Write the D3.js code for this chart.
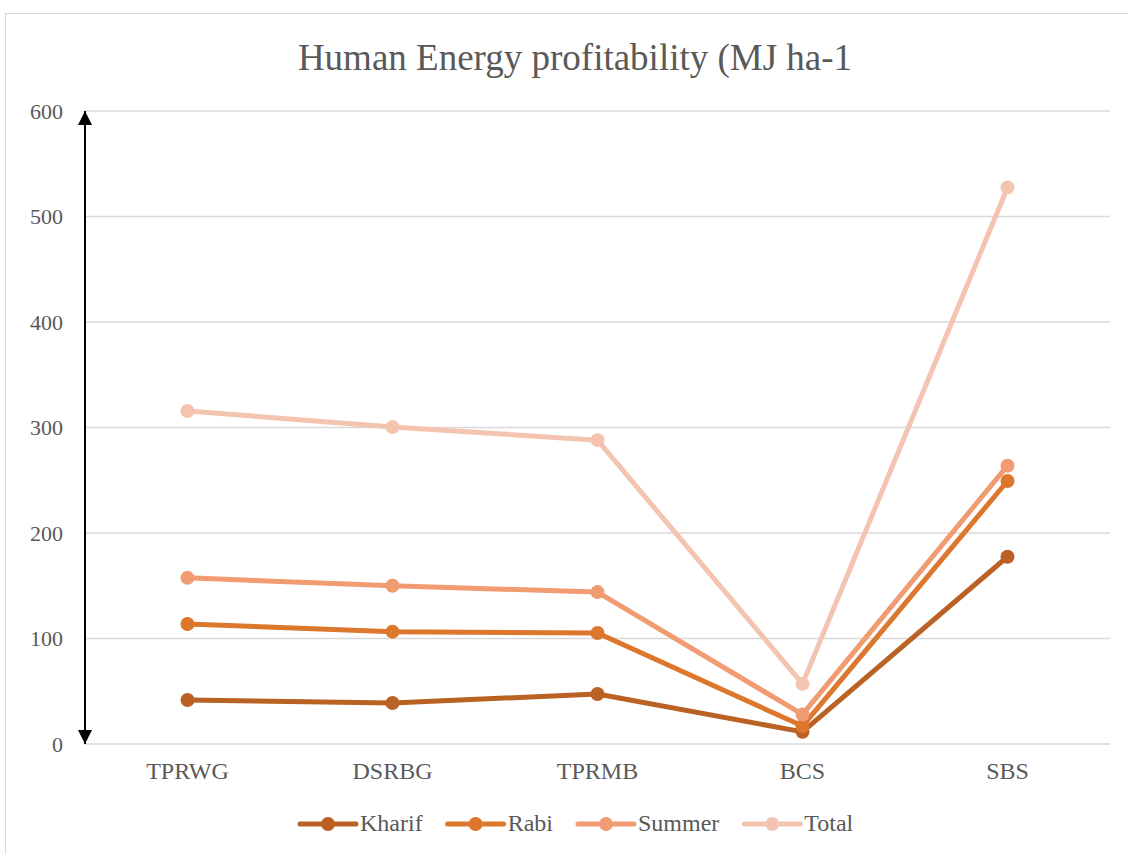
<!DOCTYPE html>
<html><head><meta charset="utf-8">
<script src="https://cdn.jsdelivr.net/npm/d3@7"></script>
<style>body{margin:0;background:#fff}svg{display:block}</style>
</head><body>
<svg id="c" width="1128" height="854"></svg>
<script>
const categories = ["TPRWG","DSRBG","TPRMB","BCS","SBS"];
const kharif = [41.7, 38.9, 47.4, 11.5, 177.5];
const rabi   = [113.8, 106.5, 105.2, 17, 249.3];
const summer = [157.5, 150, 144, 28, 263.8];
const total  = [315.6, 300.5, 288, 57, 527.5];
const seriesNames = ["Kharif","Rabi","Summer","Total"];
const seriesColors = ["#BA6124","#DD772E","#F09B72","#F5C4B0"];
const yTicks = [0,100,200,300,400,500,600];
const title = "Human Energy profitability (MJ ha-1";

const series = [kharif, rabi, summer, total].map((v,i)=>({name:seriesNames[i], color:seriesColors[i], values:v}));

const svg = d3.select("#c");
const font = "'Liberation Serif','Times New Roman',serif";
svg.append("rect").attr("x",5.5).attr("y",13.5).attr("width",1130).attr("height",850)
  .attr("fill","#fff").attr("stroke","#d9d9d9").attr("stroke-width",1);

const x = d3.scaleBand().domain(categories).range([85,1110]);
const y = d3.scaleLinear().domain([0,600]).range([744,111]);

// gridlines
svg.append("g").selectAll("line").data(yTicks).join("line")
  .attr("x1",85).attr("x2",1110).attr("y1",d=>y(d)).attr("y2",d=>y(d))
  .attr("stroke","#d9d9d9").attr("stroke-width",1.5);

// y axis labels
const ya = svg.append("g").attr("transform","translate(85,0)")
  .call(d3.axisLeft(y).tickValues(yTicks).tickSize(0).tickPadding(22));
ya.select(".domain").remove();
ya.selectAll("text").attr("font-family",font).attr("font-size",22).attr("fill","#595959")
  .attr("dy","0.32em");

// x axis labels
const xa = svg.append("g").attr("transform","translate(0,744)")
  .call(d3.axisBottom(x).tickSize(0).tickPadding(0));
xa.select(".domain").remove();
xa.selectAll("text").attr("font-family",font).attr("font-size",24).attr("fill","#595959")
  .attr("y",35).attr("dy",0);

// title
svg.append("text").attr("x",575).attr("y",70).attr("text-anchor","middle")
  .attr("font-family",font).attr("font-size",37).attr("fill","#595959").text(title);

// double arrow
const defs = svg.append("defs");
defs.append("marker").attr("id","ah").attr("viewBox","0 0 10 10").attr("refX",10).attr("refY",5)
  .attr("markerWidth",7).attr("markerHeight",7).attr("markerUnits","strokeWidth").attr("orient","auto-start-reverse")
  .append("path").attr("d","M0,0 L10,5 L0,10 Z").attr("fill","#000");
svg.append("line").attr("x1",85).attr("x2",85).attr("y1",y(600)).attr("y2",y(0))
  .attr("stroke","#000").attr("stroke-width",2)
  .attr("marker-start","url(#ah)").attr("marker-end","url(#ah)");

// lines
const line = d3.line().x((d,i)=>x(categories[i])+x.bandwidth()/2).y(d=>y(d));
const g = svg.append("g");
series.forEach(s=>{
  g.append("path").attr("d",line(s.values)).attr("fill","none")
    .attr("stroke",s.color).attr("stroke-width",5).attr("stroke-linejoin","round").attr("stroke-linecap","round");
  g.selectAll(null).data(s.values).join("circle")
    .attr("cx",(d,i)=>x(categories[i])+x.bandwidth()/2).attr("cy",d=>y(d)).attr("r",7).attr("fill",s.color);
});

// legend
const leg = svg.append("g");
let lx = 300;
const ly = 824;
series.forEach((s,i)=>{
  leg.append("line").attr("x1",lx).attr("x2",lx+56).attr("y1",ly).attr("y2",ly)
    .attr("stroke",s.color).attr("stroke-width",5).attr("stroke-linecap","round");
  leg.append("circle").attr("cx",lx+28).attr("cy",ly).attr("r",7).attr("fill",s.color);
  const t = leg.append("text").attr("x",lx+60).attr("y",ly+7).attr("font-family",font).attr("font-size",24)
    .attr("fill","#595959").text(s.name);
  lx += 60 + t.node().getComputedTextLength() + 25;
});
</script>
</body></html>
